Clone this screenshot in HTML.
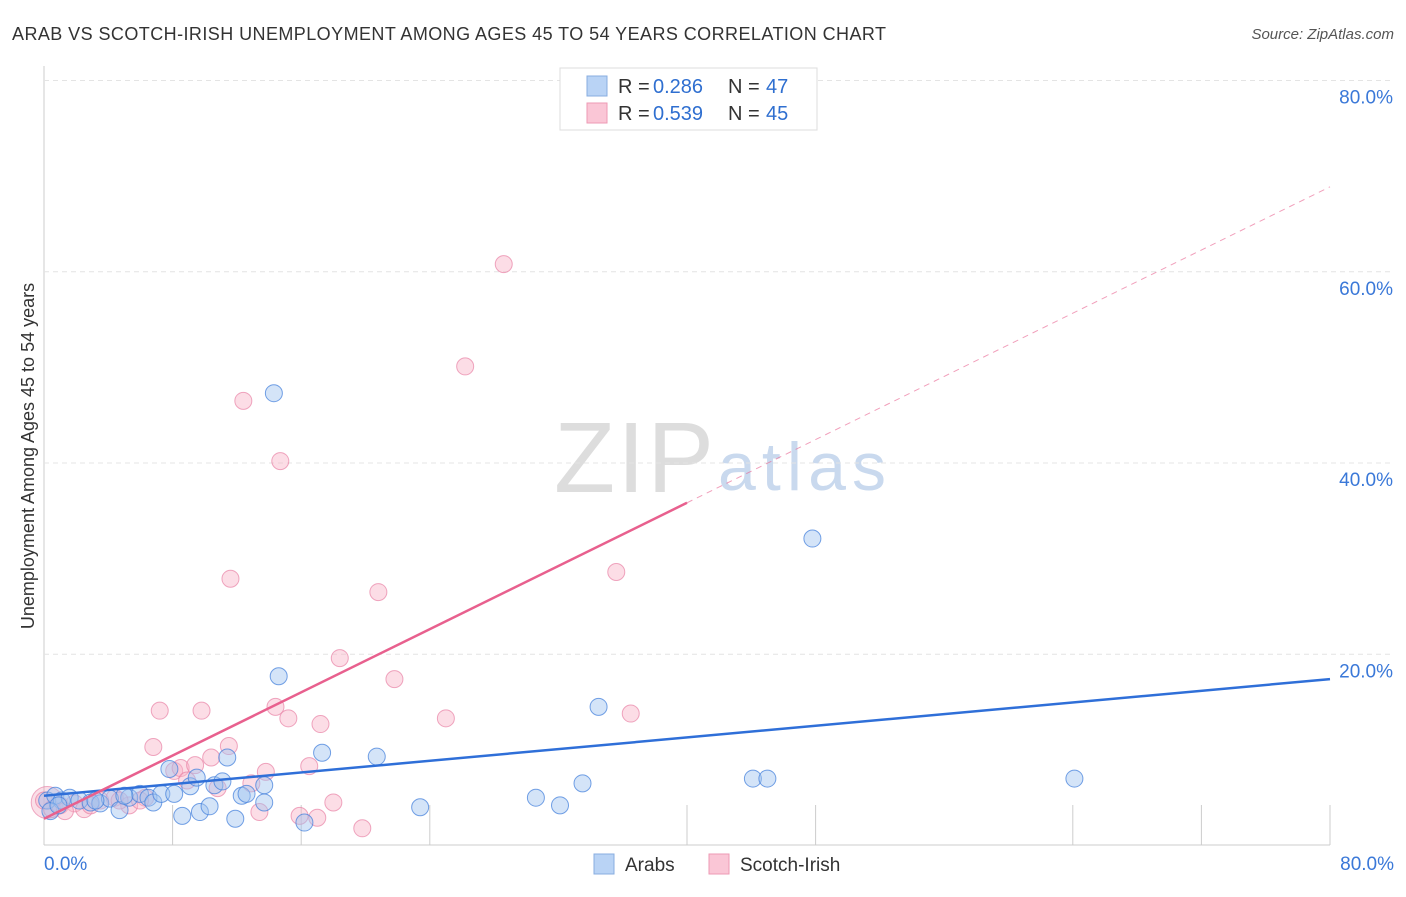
<!DOCTYPE html>
<html><head><meta charset="utf-8"><style>
body{margin:0;background:#fff;font-family:"Liberation Sans",sans-serif}
svg text{font-family:"Liberation Sans",sans-serif}
</style></head><body>
<svg id="c" width="1406" height="892" xmlns="http://www.w3.org/2000/svg">
<text x="12" y="40" font-size="18" fill="#333" textLength="874">ARAB VS SCOTCH-IRISH UNEMPLOYMENT AMONG AGES 45 TO 54 YEARS CORRELATION CHART</text>
<text x="1394" y="39" font-size="15" fill="#555" font-style="italic" text-anchor="end">Source: ZipAtlas.com</text>
<text x="34" y="456" font-size="18" fill="#333" text-anchor="middle" transform="rotate(-90 34 456)">Unemployment Among Ages 45 to 54 years</text>
<text x="714" y="492" font-size="100" fill="#ddd" text-anchor="end" font-family="Liberation Serif" textLength="160">ZIP</text>
<text x="718" y="490" font-size="68" fill="#c9d9ee" textLength="168">atlas</text>
<g id="grid"></g><g id="pts"></g><g id="lines"></g>
<g>
<rect x="560" y="68" width="257" height="62" fill="#fff" stroke="#ddd"/>
<rect x="587" y="76" width="20" height="20" fill="#b9d3f5" stroke="#88aee0"/>
<rect x="587" y="103" width="20" height="20" fill="#fac6d6" stroke="#ee9ab4"/>
<text x="618" y="93" font-size="20" fill="#333">R =</text><text x="653" y="93" font-size="20" fill="#2f6fd0">0.286</text>
<text x="728" y="93" font-size="20" fill="#333">N =</text><text x="766" y="93" font-size="20" fill="#2f6fd0">47</text>
<text x="618" y="120" font-size="20" fill="#333">R =</text><text x="653" y="120" font-size="20" fill="#2f6fd0">0.539</text>
<text x="728" y="120" font-size="20" fill="#333">N =</text><text x="766" y="120" font-size="20" fill="#2f6fd0">45</text>
</g>
<g>
<rect x="594" y="854" width="20" height="20" fill="#b9d3f5" stroke="#88aee0"/>
<text x="625" y="871" font-size="19" fill="#333">Arabs</text>
<rect x="709" y="854" width="20" height="20" fill="#fac6d6" stroke="#ee9ab4"/>
<text x="740" y="871" font-size="19" fill="#333">Scotch-Irish</text>
</g>
<text x="44" y="870" font-size="19" fill="#3a78d8">0.0%</text>
<text x="1394" y="870" font-size="19" fill="#3a78d8" text-anchor="end">80.0%</text>
</svg>
<script>
const yTicks=[20,40,60,80];
const xTicks=[8,16,24,40,48,64,72,80];
const blueX=[0.2,0.7,1.1,1.6,2.2,2.9,3.5,4.1,4.7,5.3,5.97,6.5,6.8,7.3,7.8,8.1,8.6,9.1,9.5,9.7,10.3,10.6,11.1,11.4,11.9,12.3,12.6,13.7,13.7,14.3,14.6,16.2,17.3,20.7,23.4,30.6,32.1,33.5,34.5,44.1,45.0,47.8,64.1,0.4,0.9,3.2,5.0];
const blueY=[4.7,5.2,4.7,5.0,4.7,4.5,4.4,4.9,3.7,5.0,5.4,5.0,4.5,5.4,8.0,5.4,3.1,6.2,7.1,3.5,4.1,6.3,6.7,9.2,2.8,5.2,5.4,6.3,4.5,47.3,17.7,2.4,9.7,9.3,4.0,5.0,4.2,6.5,14.5,7.0,7.0,32.1,7.0,3.6,4.2,4.7,5.2];
const pinkX=[0,0.5,1.0,1.9,2.5,3.5,4.4,5.3,6.3,6.8,7.2,8.1,8.5,8.9,9.4,9.8,10.4,10.8,11.5,11.6,12.4,12.9,13.4,13.8,14.4,14.7,15.2,15.9,16.5,17.0,17.2,18.0,18.4,19.8,20.8,21.8,25.0,26.2,28.6,35.6,36.5,5.97,4.7,1.3,2.9];
const pinkY=[4.7,3.8,4.2,4.4,3.8,4.7,5.0,4.2,5.0,10.3,14.1,7.8,8.1,6.8,8.4,14.1,9.2,6.0,10.4,27.9,46.5,6.5,3.5,7.7,14.5,40.2,13.3,3.1,8.3,2.9,12.7,4.5,19.6,1.8,26.5,17.4,13.3,50.1,60.8,28.6,13.8,4.7,4.7,3.6,4.2];
const lineInt=[5.2,2.8], lineSlope=[0.1525,0.826], solidEnd=[80,40];
const X=v=>44+v*16.075, Y=v=>845.5-v*9.5625;
const NS="http://www.w3.org/2000/svg";
function mk(p,t,a){const e=document.createElementNS(NS,t);for(const k in a)e.setAttribute(k,a[k]);p.appendChild(e);return e;}
const g=document.getElementById('grid');
const xa=mk(g,'line',{x1:44,y1:66,x2:44,y2:845,stroke:'#ccc'});


const xb=mk(g,'line',{x1:44,y1:845,x2:1330,y2:845,stroke:'#ccc'});


yTicks.forEach(t=>{
 const l=mk(g,'line',{x1:44,y1:Y(t),x2:1394,y2:Y(t),stroke:'#e4e4e4','stroke-dasharray':'5,4'});
 
 
 const tx=mk(g,'text',{x:1393,y:Y(t)+23,'font-size':19,fill:'#3a78d8','text-anchor':'end'});
 tx.textContent=t.toFixed(1)+'%';
 
 
});
xTicks.forEach(t=>{const l=mk(g,'line',{x1:X(t),y1:805,x2:X(t),y2:845,stroke:'#ccc'});
 
 });
const P=document.getElementById('pts');
const big=mk(P,'circle',{cx:X(0.2),cy:Y(4.5),r:16,fill:'rgba(240,150,180,0.3)',stroke:'rgba(230,120,160,0.6)'});


pinkX.forEach((v,i)=>{const c=mk(P,'circle',{cx:X(v),cy:Y(pinkY[i]),r:8.5,fill:'rgba(248,180,200,0.45)',stroke:'rgba(232,130,165,0.7)'});
 
 });
blueX.forEach((v,i)=>{const c=mk(P,'circle',{cx:X(v),cy:Y(blueY[i]),r:8.5,fill:'rgba(160,195,240,0.45)',stroke:'rgba(70,130,220,0.75)'});
 
 });
const L=document.getElementById('lines');const cols=['#2f6fd8','#e8608e'];
[0,1].forEach(s=>{
 const l=mk(L,'line',{x1:X(0),y1:Y(lineInt[s]),x2:X(solidEnd[s]),y2:Y(lineInt[s]+lineSlope[s]*solidEnd[s]),stroke:cols[s],'stroke-width':2.5});
 
 
 if(solidEnd[s]<80){const d=mk(L,'line',{x1:X(solidEnd[s]),y1:Y(lineInt[s]+lineSlope[s]*solidEnd[s]),x2:X(80),y2:Y(lineInt[s]+lineSlope[s]*80),stroke:cols[s],'stroke-width':1,'stroke-dasharray':'6,5',opacity:0.6});
 
 }
});
</script>
</body></html>
